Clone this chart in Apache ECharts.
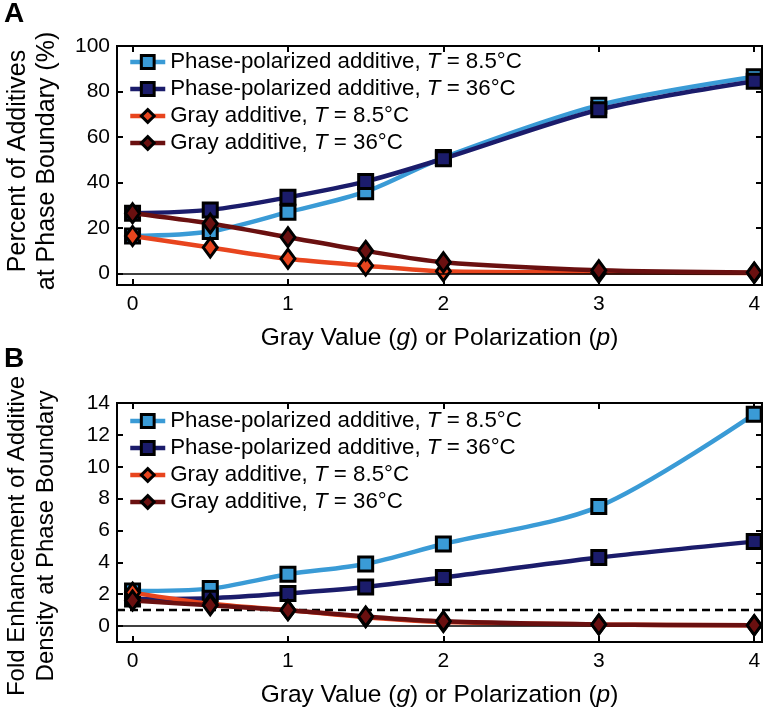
<!DOCTYPE html>
<html>
<head>
<meta charset="utf-8">
<script src="https://cdn.jsdelivr.net/npm/echarts@6/dist/echarts.min.js"></script>
<style>
html,body{margin:0;padding:0;background:#fff;}
#chart{width:774px;height:719px;}
</style>
</head>
<body>
<div id="chart"></div>
<script>
// ---- data ----
const xValues = [0, 0.5, 1, 1.5, 2, 3, 4];
const xTicks = [0, 1, 2, 3, 4];
const yTicksA = [0, 20, 40, 60, 80, 100];
const yTicksB = [0, 2, 4, 6, 8, 10, 12, 14];
const seriesNames = [
  'Phase-polarized additive, T = 8.5°C',
  'Phase-polarized additive, T = 36°C',
  'Gray additive, T = 8.5°C',
  'Gray additive, T = 36°C'
];
const xTitle = 'Gray Value ({i|g}) or Polarization ({i|p})';
const yTitleA = ['Percent of Additives', 'at Phase Boundary (%)'];
const yTitleB = ['Fold Enhancement of Additive', 'Density at Phase Boundary'];
// Panel A: percent of additives at phase boundary (%)
const ppA_85 = [16.5, 18.5, 27, 36, 51, 74, 86.5];
const ppA_36 = [26.5, 28, 33.5, 40.5, 50.5, 72, 84.5];
const grayA_85 = [16.5, 11.5, 6.5, 3.5, 1, 0.5, 0.3];
const grayA_36 = [26.5, 22, 16, 10, 5, 1.5, 0.5];
// Panel B: fold enhancement of additive density
const ppB_85 = [2.2, 2.35, 3.25, 3.9, 5.15, 7.5, 13.3];
const ppB_36 = [1.7, 1.75, 2.05, 2.45, 3.05, 4.3, 5.3];
const grayB_85 = [2.1, 1.4, 1.0, 0.55, 0.25, 0.1, 0.05];
const grayB_36 = [1.6, 1.3, 1.0, 0.6, 0.3, 0.1, 0.05];

// ---- styles ----
const FONT = '"Liberation Sans", Arial, Helvetica, sans-serif';
const colors = ['#3a9bd6', '#1b1c6b', '#e8451e', '#6a1010'];
const symbols = ['rect', 'rect', 'diamond', 'diamond'];
const symSizes = [14, 14, [14, 19], [14, 19]];

function pairs(vals) { return xValues.map((x, i) => [x, vals[i]]); }

function makeSeries(idx, dataVals, gridIdx, extra) {
  const s = {
    name: seriesNames[idx],
    type: 'line',
    xAxisIndex: gridIdx * 2,
    yAxisIndex: gridIdx * 2,
    data: pairs(dataVals),
    smooth: 0.3,
    symbol: symbols[idx],
    symbolSize: symSizes[idx],
    lineStyle: { color: colors[idx], width: 4.5 },
    itemStyle: { color: colors[idx], borderColor: '#000', borderWidth: 3 },
    emphasis: { disabled: true },
    z: 2 + idx
  };
  return Object.assign(s, extra || {});
}

function refLine(y, dashed) {
  return {
    silent: true,
    symbol: ['none', 'none'],
    label: { show: false },
    lineStyle: { color: '#000', width: dashed ? 2.4 : 1.5, type: dashed ? [8, 5] : 'solid' },
    data: [{ yAxis: y }]
  };
}

const tickStyle = { show: true, inside: true, length: 6, lineStyle: { color: '#000', width: 2 } };

function xAxes(gridIdx) {
  return [
    {
      type: 'value', gridIndex: gridIdx, min: -0.1, max: 4.05, position: 'bottom',
      splitLine: { show: false }, axisLine: { show: false, onZero: false },
      axisTick: Object.assign({ customValues: xTicks }, tickStyle),
      axisLabel: { show: true, customValues: xTicks, color: '#000', fontSize: 21, fontFamily: FONT, margin: 9 },
      name: xTitle,
      nameLocation: 'middle', nameGap: 41,
      nameTextStyle: { color: '#000', fontSize: 24.5, fontFamily: FONT,
        rich: { i: { fontStyle: 'italic', fontSize: 24.5, fontFamily: FONT, color: '#000' } } }
    },
    {
      type: 'value', gridIndex: gridIdx, min: -0.1, max: 4.05, position: 'top',
      splitLine: { show: false }, axisLine: { show: false, onZero: false },
      axisTick: Object.assign({ customValues: xTicks }, tickStyle),
      axisLabel: { show: false }
    }
  ];
}

function yAxes(gridIdx, min, max, ticks) {
  const common = {
    type: 'value', gridIndex: gridIdx, min: min, max: max,
    splitLine: { show: false }, axisLine: { show: false, onZero: false }
  };
  return [
    Object.assign({}, common, {
      position: 'left',
      axisTick: Object.assign({ customValues: ticks }, tickStyle),
      axisLabel: { show: true, customValues: ticks, color: '#000', fontSize: 21, fontFamily: FONT, margin: 7 }
    }),
    Object.assign({}, common, {
      position: 'right',
      axisTick: Object.assign({ customValues: ticks }, tickStyle),
      axisLabel: { show: false }
    })
  ];
}

function legend(top) {
  return {
    orient: 'vertical', left: 128, top: top, padding: 0,
    itemWidth: 35, itemHeight: 16, itemGap: 5,
    data: seriesNames,
    selectedMode: false,
    lineStyle: { width: 4.5 },
    itemStyle: { borderColor: '#000', borderWidth: 3 },
    formatter: n => n.replace(' T ', ' {i|T} '),
    textStyle: { color: '#000', fontSize: 22.3, lineHeight: 22, fontFamily: FONT,
      rich: { i: { fontStyle: 'italic', fontSize: 22.3, lineHeight: 22, fontFamily: FONT, color: '#000' } } }
  };
}

function vText(text, x, y, size) {
  return {
    type: 'text', x: x, y: y, rotation: Math.PI / 2,
    style: { text: text, font: size + 'px ' + FONT, fill: '#000', align: 'center', verticalAlign: 'middle' }
  };
}

const chart = echarts.init(document.getElementById('chart'), null, { renderer: 'canvas' });
const option = {
  backgroundColor: '#fff',
  animation: false,
  textStyle: { fontFamily: FONT },
  grid: [
    { left: 117, right: 12, top: 46, bottom: 434, show: true, borderColor: '#000', borderWidth: 2, backgroundColor: 'transparent' },
    { left: 117, right: 12, top: 403, bottom: 77, show: true, borderColor: '#000', borderWidth: 2, backgroundColor: 'transparent' }
  ],
  xAxis: xAxes(0).concat(xAxes(1)),
  yAxis: yAxes(0, -5, 100, yTicksA).concat(yAxes(1, -1, 14, yTicksB)),
  legend: [legend(51), legend(410)],
  graphic: [
    { type: 'text', left: 4, top: 0, style: { text: 'A', font: 'bold 28px ' + FONT, fill: '#000' } },
    { type: 'text', left: 4, top: 345, style: { text: 'B', font: 'bold 28px ' + FONT, fill: '#000' } },
    vText(yTitleA[0], 18, 161, 25),
    vText(yTitleA[1], 47, 161, 25),
    vText(yTitleB[0], 17, 536, 24),
    vText(yTitleB[1], 46, 536, 24)
  ],
  series: [
    makeSeries(0, ppA_85, 0, { markLine: refLine(0, false) }),
    makeSeries(1, ppA_36, 0),
    makeSeries(2, grayA_85, 0),
    makeSeries(3, grayA_36, 0),
    makeSeries(0, ppB_85, 1, { markLine: refLine(0, false) }),
    makeSeries(1, ppB_36, 1, { markLine: refLine(1, true) }),
    makeSeries(2, grayB_85, 1),
    makeSeries(3, grayB_36, 1)
  ]
};
chart.setOption(option);
</script>
</body>
</html>
